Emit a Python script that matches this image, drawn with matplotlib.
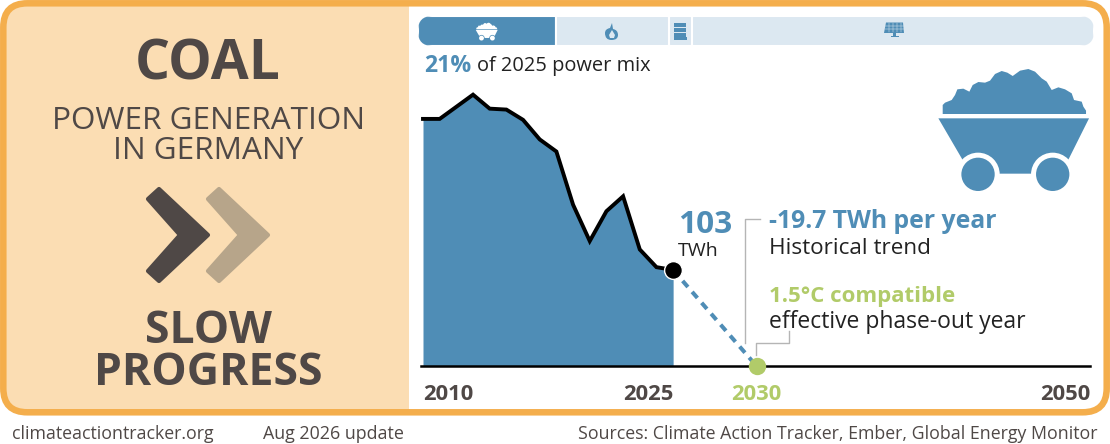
"""Coal power generation card: Germany."""
import matplotlib

matplotlib.use("Agg")
import matplotlib.pyplot as plt
from matplotlib.patches import Circle, FancyBboxPatch, PathPatch, Polygon, Rectangle
from matplotlib.path import Path

W, H = 1110, 444
BLUE = "#4F8DB6"
LIGHT = "#DCE8F1"
GREEN = "#B1CB69"
ORANGE = "#F4AE4C"
PEACH = "#FBDDB3"
DARK = "#4F4846"
TAN = "#B7A58A"
INK = "#222222"

years = list(range(2010, 2026))
coal_twh = [265, 265, 278, 291, 276, 275, 264, 243, 230, 173, 134, 166, 182, 125, 106, 103]
trend_years = [2025, 2030]
trend_twh = [103, 0]
mix_names = ["coal", "gas", "oil", "renewables"]
mix_share = [20.4, 16.8, 3.4, 59.4]
tick_years = [2010, 2025, 2050]
tick_aligns = ["left", "right", "right"]

plt.rcParams["font.family"] = ["Open Sans", "DejaVu Sans"]


def px(size):
    return size * 0.72


def pixel_axes(zorder):
    a = fig.add_axes([0, 0, 1, 1], zorder=zorder)
    a.set_xlim(0, W)
    a.set_ylim(H, 0)
    a.axis("off")
    a.patch.set_alpha(0)
    return a


fig = plt.figure(figsize=(W / 100, H / 100), dpi=100)
bg = pixel_axes(0)
top = pixel_axes(5)

# card frame and left panel
bg.add_patch(FancyBboxPatch((3, 3), W - 6, 409, boxstyle="round,pad=0,rounding_size=24",
                            fc="white", ec="none", zorder=1))
bg.add_patch(FancyBboxPatch((3, 3), 500, 409, boxstyle="round,pad=0,rounding_size=24",
                            fc=PEACH, ec="none", zorder=1.2))
bg.add_patch(Rectangle((409, 0), 120, 420, fc="white", ec="none", zorder=1.4))
bg.add_patch(FancyBboxPatch((3.3, 3.3), W - 6.6, 409, boxstyle="round,pad=0,rounding_size=24",
                            fc="none", ec=ORANGE, lw=4.7, zorder=2))

bg.text(208, 65, "COAL", ha="center", va="center", fontsize=px(55), fontweight="bold", color=DARK, zorder=3)
bg.text(208, 135.5, "POWER GENERATION\nIN GERMANY", ha="center", va="center", fontsize=px(31.5),
        color=DARK, linespacing=1.0, zorder=3)
bg.text(208, 352.5, "SLOW\nPROGRESS", ha="center", va="center", fontsize=px(44.5), fontweight="bold",
        color=DARK, linespacing=0.89, zorder=3)


def chevron(x0, color):
    pts = [(x0, 199), (x0 + 11, 189), (x0 + 60, 235), (x0 + 11, 281), (x0, 271), (x0 + 32, 235)]
    bg.add_patch(Polygon(pts, closed=True, fc=color, ec=color, lw=3, joinstyle="round", zorder=3))


chevron(148, DARK)
chevron(208, TAN)

# footer
bg.text(12, 434, "climateactiontracker.org", ha="left", va="center", fontsize=px(17.8), color=DARK)
bg.text(263, 434, "Aug 2026 update", ha="left", va="center", fontsize=px(17.9), color=DARK)
bg.text(1098, 434, "Sources: Climate Action Tracker, Ember, Global Energy Monitor",
        ha="right", va="center", fontsize=px(17.75), color=DARK)

# power mix strip
mix = fig.add_axes([418 / W, 1 - 46 / H, 676 / W, 30 / H], zorder=1)
mix.set_xlim(0, 100)
mix.set_ylim(0, 1)
mix.axis("off")
strip = FancyBboxPatch((418, 16), 676, 30, boxstyle="round,pad=0,rounding_size=14.5",
                       fc="none", ec="none")
bg.add_patch(strip)
left = 0
for name, share in zip(mix_names, mix_share):
    bars = mix.barh(0.5, share, left=left, height=1, color=BLUE if name == "coal" else LIGHT,
                    edgecolor="white", linewidth=1.5)
    bars[0].set_clip_path(strip)
    left += share

# cart outline, traced at 3x: x relative to centre, y relative to top of pile
PILE = [(-213, 135), (-213, 108), (-206, 101), (-186, 93), (-176, 78), (-169, 61), (-151, 59), (-133, 68),
        (-123, 48), (-106, 39), (-86, 41), (-71, 35), (-56, 15), (-36, 6), (-19, 11), (-3, 21), (19, 5),
        (44, 0), (64, 8), (84, 28), (99, 38), (114, 63), (134, 55), (154, 61), (174, 73), (181, 93),
        (204, 98), (209, 113), (217, 125), (217, 135)]
TUB = [(-226, 148), (226, 148), (166, 268), (139, 314), (-131, 314), (-156, 268)]
WHEELS = [-107, 117]


def cart(cx, y0, scale, color, gap_color):
    k = scale / 3
    top.add_patch(Polygon([(cx + x * k, y0 + y * k) for x, y in PILE], closed=True, fc=color, ec="none", zorder=6))
    top.add_patch(Polygon([(cx + x * k, y0 + y * k) for x, y in TUB], closed=True, fc=color, ec="none", zorder=6))
    for dx in WHEELS:
        top.add_patch(Circle((cx + dx * k, y0 + 316 * k), 65 * k, fc=gap_color, ec="none", zorder=7))
        top.add_patch(Circle((cx + dx * k, y0 + 316 * k), 50 * k, fc=color, ec="none", zorder=8))


cart(1013.7, 69, 1.0, BLUE, "white")
cart(486.7, 22.7, 0.146, "white", BLUE)

# small gas, oil and solar glyphs
flame = Path([(611.5, 40), (605, 40), (605, 33), (605, 29), (610, 28), (612, 23), (613, 29), (618, 30),
              (618, 35), (618, 40), (611.5, 40)],
             [Path.MOVETO, Path.CURVE3, Path.CURVE3, Path.CURVE3, Path.CURVE3, Path.LINETO, Path.LINETO,
              Path.CURVE3, Path.CURVE3, Path.CURVE3, Path.CURVE3])
top.add_patch(PathPatch(flame, fc=BLUE, ec="none", zorder=6))
top.add_patch(Polygon([(612, 30), (609, 35), (610, 38), (614, 38), (615, 35)], closed=True,
                      fc=LIGHT, ec="none", zorder=7))
for y0 in (23, 28, 33):
    top.add_patch(Rectangle((674, y0), 12, 4, fc=BLUE, ec="none", zorder=6))
top.add_patch(Rectangle((673.5, 37.5), 13, 2.5, fc=BLUE, ec="none", zorder=6))
top.add_patch(Polygon([(886, 22.5), (903, 22.5), (904, 33), (884, 33)], closed=True, fc=BLUE, ec="none", zorder=6))
for x0 in (889, 893, 897, 900.5):
    top.plot([x0, x0], [23, 32], color=LIGHT, lw=0.35, zorder=7)
for y0 in (26, 29.5):
    top.plot([885, 904], [y0, y0], color=LIGHT, lw=0.35, zorder=7)
top.add_patch(Rectangle((893, 33), 3, 3, fc=BLUE, ec="none", zorder=6))
top.add_patch(Rectangle((890.5, 36), 8, 1.5, fc=BLUE, ec="none", zorder=6))

# chart
ax = fig.add_axes([423 / W, 1 - 366 / H, (1090 - 423) / W, 276 / H], zorder=2)
ax.set_xlim(2010, 2050)
ax.set_ylim(0, 296)
ax.axis("off")
ax.patch.set_alpha(0)
ax.fill_between(years, coal_twh, 0, color=BLUE, lw=0, zorder=2)
ax.plot(years, coal_twh, color="black", lw=2.8, solid_joinstyle="miter", clip_on=False, zorder=3)
ax.plot(trend_years, trend_twh, color=BLUE, lw=2.9, ls=(0, (2.0, 1.6)), clip_on=False, zorder=2)
ax.plot([2009.9, 2050], [0, 0], color="black", lw=1.8, clip_on=False, zorder=3)
ax.plot(trend_years[0], trend_twh[0], "o", ms=12.8, mfc="black", mec="white", mew=1, clip_on=False, zorder=5)
ax.plot(trend_years[1], trend_twh[1], "o", ms=12.5, mfc=GREEN, mec="none", clip_on=False, zorder=5)

for yr, ha in zip(tick_years, tick_aligns):
    ax.annotate(str(yr), (yr, 0), xytext=(0, -20.5), textcoords="offset points", ha=ha, va="center",
                fontsize=px(22), fontweight="bold", color=DARK)
ax.annotate("2030", (trend_years[1], 0), xytext=(0, -20.5), textcoords="offset points", ha="center", va="center",
            fontsize=px(22), fontweight="bold", color=GREEN)

# annotations
top.text(705, 225, "103", ha="center", va="center", fontsize=px(31.5), fontweight="bold", color=BLUE)
top.text(698, 251, "TWh", ha="center", va="center", fontsize=px(19.5), color=INK)
top.text(424, 66, "21%", ha="left", va="center", fontsize=px(23), fontweight="bold", color=BLUE)
top.text(477, 66, "of 2025 power mix", ha="left", va="center", fontsize=px(20), color=INK)
top.text(769, 221, "-19.7 TWh per year", ha="left", va="center", fontsize=px(24.7), fontweight="bold", color=BLUE)
top.text(769, 248, "Historical trend", ha="left", va="center", fontsize=px(22.5), color=INK)
top.text(769, 296, "1.5°C compatible", ha="left", va="center", fontsize=px(22.3), fontweight="bold", color=GREEN)
top.text(769, 322, "effective phase-out year", ha="left", va="center", fontsize=px(22.9), color=INK)
top.plot([760, 744.5, 744.5], [219, 219, 343], color="#B5B5B5", lw=1, zorder=4)
top.plot([789, 789, 756, 756], [331, 343, 343, 355], color="#B5B5B5", lw=1, zorder=4)
top.set_xlim(0, W)
top.set_ylim(H, 0)

fig.savefig("out.png", dpi=100)
